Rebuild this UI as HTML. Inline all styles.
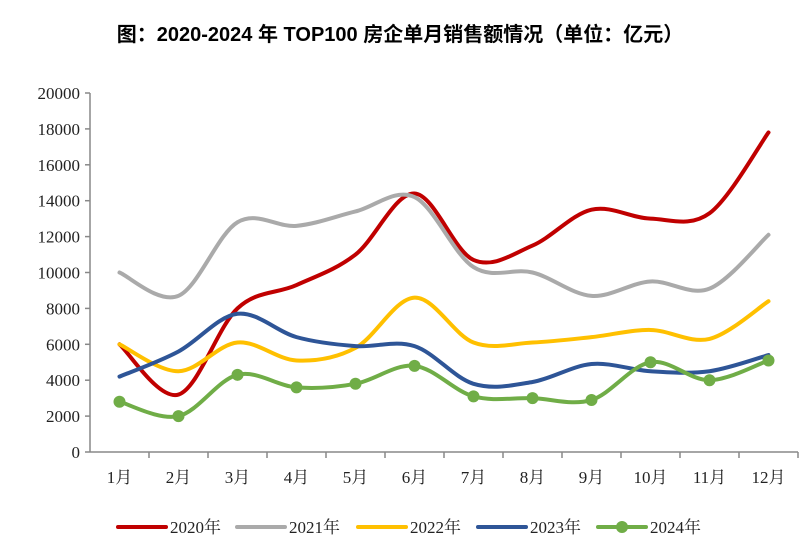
<!DOCTYPE html>
<html><head><meta charset="utf-8"><style>
body{margin:0;background:#fff;width:800px;height:552px;overflow:hidden}
svg text{font-family:"Liberation Serif","Noto Serif CJK SC",serif}
</style></head><body>
<svg width="800" height="552" id="c">
<text x="400" y="41" text-anchor="middle" font-size="20" font-weight="bold" style="font-family:'Liberation Sans','Noto Sans CJK SC',sans-serif">图：2020-2024 年 TOP100 房企单月销售额情况（单位：亿元）</text>
<g id="axes"></g><g id="series"></g><g id="legend"></g>
</svg>
<script>
const categories=["1月","2月","3月","4月","5月","6月","7月","8月","9月","10月","11月","12月"];
const yTicks=[0,2000,4000,6000,8000,10000,12000,14000,16000,18000,20000];
const s2020=[6000,3200,8000,9300,11000,14400,10700,11500,13500,13000,13300,17800];
const s2021=[10000,8700,12800,12600,13400,14200,10300,10000,8700,9500,9100,12100];
const s2022=[6000,4500,6100,5100,5800,8600,6100,6100,6400,6800,6300,8400];
const s2023=[4200,5600,7700,6400,5900,5900,3800,3900,4900,4500,4500,5400];
const s2024=[2800,2000,4300,3600,3800,4800,3100,3000,2900,5000,4000,5100];
const names=["2020年","2021年","2022年","2023年","2024年"];
const colors=["#c00000","#aaaaaa","#ffc000","#2e5597","#70ad47"];
const all=[s2020,s2021,s2022,s2023,s2024];
const NS="http://www.w3.org/2000/svg";
const x0=90,bw=59,yb=452,yt=93;
const X=i=>x0+bw*(i+0.5);
const Y=v=>yb-(v/20000)*(yb-yt);
function mk(t,a,p){const e=document.createElementNS(NS,t);for(const k in a)e.setAttribute(k,a[k]);p.appendChild(e);return e;}
const ax=document.getElementById('axes');
const yl=mk('line',{x1:x0,y1:yt,x2:x0,y2:yb,stroke:'#888','stroke-width':1.5},ax);


const xl=mk('line',{x1:x0,y1:yb,x2:x0+bw*12,y2:yb,stroke:'#888','stroke-width':1.5},ax);


yTicks.forEach(v=>{
mk('line',{x1:x0-5,y1:Y(v),x2:x0,y2:Y(v),stroke:'#888','stroke-width':1.5},ax);
const t=mk('text',{x:x0-10,y:Y(v)+6,'text-anchor':'end','font-size':17,fill:'#222'},ax);t.textContent=v;


});
categories.forEach((c,i)=>{
mk('line',{x1:x0+bw*(i+1),y1:yb,x2:x0+bw*(i+1),y2:yb+6,stroke:'#888','stroke-width':1.5},ax);
const t=mk('text',{x:X(i),y:yb+31,'text-anchor':'middle','font-size':17,fill:'#222'},ax);t.textContent=c;


});
function path(d){const p=d.map((v,i)=>[X(i),Y(v)]);let s=`M${p[0][0]},${p[0][1]}`;
for(let i=0;i<p.length-1;i++){const a=p[i-1]||p[i],b=p[i],c=p[i+1],e=p[i+2]||c;
s+=` C${b[0]+(c[0]-a[0])/6},${b[1]+(c[1]-a[1])/6} ${c[0]-(e[0]-b[0])/6},${c[1]-(e[1]-b[1])/6} ${c[0]},${c[1]}`;}return s;}
const sg=document.getElementById('series');
all.forEach((d,k)=>{
const p=mk('path',{d:path(d),fill:'none',stroke:colors[k],'stroke-width':4,'stroke-linecap':'round'},sg);


if(k===4)d.forEach((v,i)=>{const c=mk('circle',{cx:X(i),cy:Y(v),r:6,fill:colors[k]},sg);

});
});
const lg=document.getElementById('legend');
const lx=[118,237,358,478,598];
names.forEach((n,k)=>{
const g=mk('g',{},lg);


mk('line',{x1:lx[k],y1:527,x2:lx[k]+48,y2:527,stroke:colors[k],'stroke-width':4,'stroke-linecap':'round'},g);
if(k===4)mk('circle',{cx:lx[k]+24,cy:527,r:6,fill:colors[k]},g);
const t=mk('text',{x:lx[k]+52,y:533,'font-size':17,fill:'#222'},g);t.textContent=n;
});
</script>
</body></html>
